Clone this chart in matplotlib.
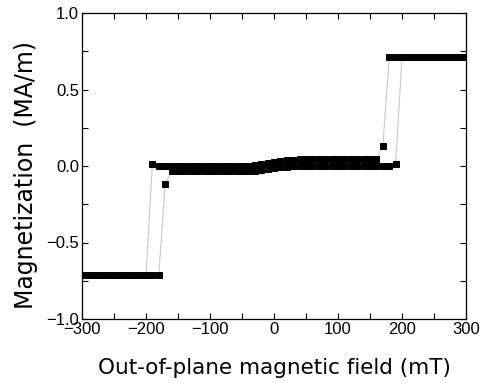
import matplotlib
matplotlib.use("Agg")
import matplotlib.pyplot as plt
from matplotlib.ticker import MultipleLocator

plt.rcParams['font.family'] = ['Liberation Sans', 'DejaVu Sans']

# Descending sweep (+300 -> -300 mT)
field_desc = [300, 290, 280, 270, 260, 250, 240, 230, 220, 210, 200, 190, 180,
              170,
              160, 150, 140, 130, 120, 110, 100, 90, 80, 70, 60, 50, 40,
              30, 20, 10, 0, -10, -20, -30, -40,
              -50, -60, -70, -80, -90, -100, -110, -120, -130, -140, -150, -160, -170, -180,
              -190,
              -200, -210, -220, -230, -240, -250, -260, -270, -280, -290, -300]
mag_desc = [0.71, 0.71, 0.71, 0.71, 0.71, 0.71, 0.71, 0.71, 0.71, 0.71, 0.71, 0.71, 0.71,
            0.13,
            0.047, 0.046, 0.045, 0.045, 0.045, 0.045, 0.045, 0.045, 0.045, 0.045, 0.045, 0.045, 0.045,
            0.042, 0.037, 0.031, 0.025, 0.018, 0.011, 0.005, 0.002,
            0.0, 0.0, 0.0, 0.0, 0.0, 0.0, 0.0, 0.0, 0.0, 0.0, 0.0, 0.0, 0.0, 0.0,
            0.01,
            -0.71, -0.71, -0.71, -0.71, -0.71, -0.71, -0.71, -0.71, -0.71, -0.71, -0.71]

# Ascending sweep (-300 -> +300 mT)
field_asc = [-300, -290, -280, -270, -260, -250, -240, -230, -220, -210, -200, -190, -180,
             -170,
             -160, -150, -140, -130, -120, -110, -100, -90, -80, -70, -60, -50, -40,
             -30, -20, -10, 0, 10, 20, 30,
             40, 50, 60, 70, 80, 90, 100, 110, 120, 130, 140, 150, 160, 170, 180,
             190,
             200, 210, 220, 230, 240, 250, 260, 270, 280, 290, 300]
mag_asc = [-0.71, -0.71, -0.71, -0.71, -0.71, -0.71, -0.71, -0.71, -0.71, -0.71, -0.71, -0.71, -0.71,
           -0.115,
           -0.035, -0.035, -0.035, -0.035, -0.035, -0.035, -0.035, -0.035, -0.035, -0.035, -0.035, -0.035, -0.035,
           -0.033, -0.028, -0.022, -0.015, -0.009, -0.004, -0.001,
           0.003, 0.003, 0.003, 0.003, 0.003, 0.003, 0.003, 0.003, 0.003, 0.003, 0.003, 0.003, 0.003, 0.003, 0.003,
           0.01,
           0.71, 0.71, 0.71, 0.71, 0.71, 0.71, 0.71, 0.71, 0.71, 0.71, 0.71]

xticks = [-300, -200, -100, 0, 100, 200, 300]
xticklabels = ['\u2212300', '\u2212200', '\u2212100', '0', '100', '200', '300']
yticks = [-1.0, -0.5, 0.0, 0.5, 1.0]
yticklabels = ['\u22121.0', '\u22120.5', '0.0', '0.5', '1.0']

fig = plt.figure(figsize=(4.85, 3.83), dpi=100)
ax = fig.add_axes([82/485, 64/383, 384/485, 306/383])

for fx, my in [(field_desc, mag_desc), (field_asc, mag_asc)]:
    ax.plot(fx, my, '-', color='#c8c8c8', lw=0.8, marker='s', ms=4.6,
            mfc='black', mec='black', mew=0.7, zorder=3)

ax.set_xlim(-300, 300)
ax.set_ylim(-1.0, 1.0)
ax.set_xticks(xticks)
ax.set_xticklabels(xticklabels)
ax.set_yticks(yticks)
ax.set_yticklabels(yticklabels)
ax.xaxis.set_minor_locator(MultipleLocator(50))
ax.yaxis.set_minor_locator(MultipleLocator(0.25))
ax.tick_params(which='both', direction='in', top=True, right=True,
               length=4, width=0.8, labelsize=12, pad=2)

for s in ax.spines.values():
    s.set_linewidth(0.9)

ax.set_xlabel('Out-of-plane magnetic field (mT)', fontsize=15.5,
              family='DejaVu Sans', labelpad=15)
ax.set_ylabel('Magnetization  (MA/m)', fontsize=17,
              family='DejaVu Sans', labelpad=6)
ax.yaxis.label.set_y(0.47)

fig.savefig('out.png', dpi=100)
